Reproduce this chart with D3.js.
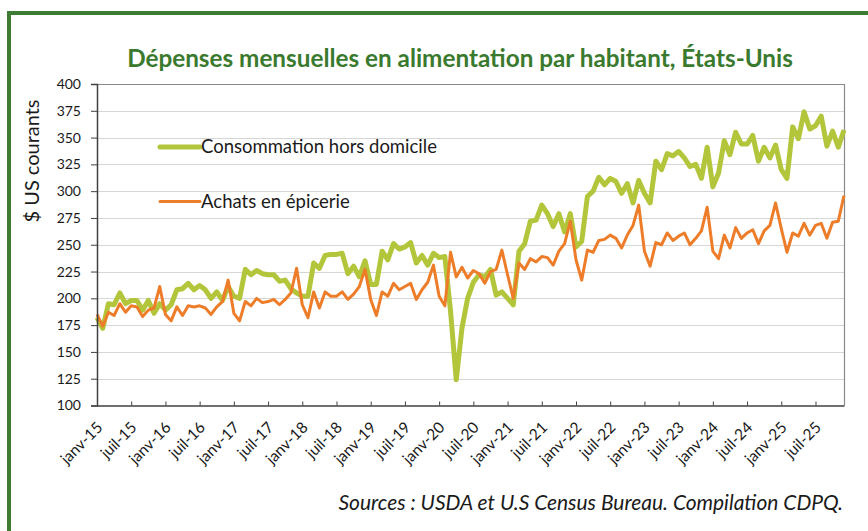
<!DOCTYPE html>
<html>
<head>
<meta charset="utf-8">
<script src="https://cdn.jsdelivr.net/npm/d3@7"></script>
<style>
  body { margin: 0; background: #fff; }
  svg { display: block; }
  text { font-family: Lato, "Liberation Sans", sans-serif; fill: #1a1a1a; }
</style>
</head>
<body>
<script>
const w = 868;
const h = 531;

// categories : un point par mois, janv-15 a dec-25
const years = ["15", "16", "17", "18", "19", "20", "21", "22", "23", "24", "25"];
const monthNames = ["janv", "févr", "mars", "avr", "mai", "juin", "juil", "août", "sept", "oct", "nov", "déc"];
const categories = years.flatMap(y => monthNames.map(m => m + "-" + y));

const tickLabels = [
  "janv-15", "juil-15", "janv-16", "juil-16", "janv-17", "juil-17", "janv-18", "juil-18",
  "janv-19", "juil-19", "janv-20", "juil-20", "janv-21", "juil-21", "janv-22", "juil-22",
  "janv-23", "juil-23", "janv-24", "juil-24", "janv-25", "juil-25"
];
const yTicks = [100, 125, 150, 175, 200, 225, 250, 275, 300, 325, 350, 375, 400];

// $ US courants par habitant
const horsDomicile = [
  182, 172, 195, 194, 205, 195, 198, 198, 189, 198, 186, 195,
  189, 194, 208, 209, 214, 208, 212, 208, 200, 206, 198, 211,
  202, 200, 227, 222, 226, 223, 222, 222, 216, 217, 209, 205,
  202, 202, 233, 228, 240, 241, 241, 242, 223, 230, 220, 235,
  213, 213, 244, 236, 251, 246, 248, 252, 233, 240, 231, 242,
  238, 239, 188, 124, 172, 200, 215, 222, 220, 227, 203, 206,
  200, 194, 244, 251, 272, 273, 287, 279, 267, 279, 262, 279,
  248, 253, 295, 300, 313, 306, 312, 309, 298, 307, 289, 310,
  298, 289, 328, 320, 335, 333, 337, 331, 323, 325, 312, 341,
  304, 317, 347, 334, 355, 344, 344, 352, 328, 341, 331, 343,
  320, 312, 360, 349, 374, 358, 361, 370, 342, 356, 341, 357
];
const epicerie = [
  185, 174, 187, 184, 195, 187, 193, 192, 183, 189, 191, 211,
  185, 179, 192, 184, 193, 192, 193, 191, 185, 192, 197, 217,
  186, 179, 197, 193, 200, 196, 197, 199, 194, 199, 205, 228,
  194, 182, 206, 191, 206, 202, 202, 206, 199, 204, 211, 227,
  199, 184, 206, 202, 214, 208, 211, 214, 199, 208, 215, 231,
  202, 193, 243, 220, 229, 219, 226, 223, 214, 225, 227, 245,
  222, 200, 233, 227, 237, 234, 239, 238, 231, 244, 251, 272,
  236, 217, 245, 243, 254, 255, 259, 256, 247, 259, 268, 287,
  244, 230, 252, 250, 261, 254, 258, 261, 250, 256, 263, 285,
  244, 237, 259, 247, 266, 256, 261, 264, 251, 263, 268, 289,
  265, 243, 261, 258, 270, 259, 268, 270, 256, 271, 272, 296
];

const greenLine = "#b3c53a";
const orangeLine = "#ee7d2a";
const darkGreen = "#3e7b33";

const plot = { left: 97, right: 844, top: 84, bottom: 405.5 };

const svg = d3.select("body").append("svg").attr("width", w).attr("height", h);

// cadre vert (coupe a droite et en bas)
svg.append("rect")
  .attr("x", 9).attr("y", 13)
  .attr("width", w + 20).attr("height", h + 20)
  .attr("fill", "none")
  .attr("stroke", darkGreen)
  .attr("stroke-width", 4);

function fitWidth(sel, target) {
  const size = parseFloat(sel.attr("font-size"));
  const len = sel.node().getComputedTextLength();
  sel.attr("font-size", size * target / len);
}

const title = svg.append("text")
  .attr("x", 460).attr("y", 67)
  .attr("text-anchor", "middle")
  .attr("font-size", 21)
  .attr("font-weight", "bold")
  .style("fill", "#3a7a2e")
  .text("Dépenses mensuelles en alimentation par habitant, États-Unis");
fitWidth(title, 666);

const x = d3.scalePoint().domain(categories).range([plot.left, plot.right]);
const y = d3.scaleLinear().domain([100, 400]).range([plot.bottom, plot.top]);

const crisp = v => Math.round(v) + 0.5;

// grille
svg.append("g")
  .selectAll("line")
  .data(yTicks.filter(v => v > 100 && v < 400))
  .enter()
  .append("line")
  .attr("x1", plot.left).attr("x2", plot.right)
  .attr("y1", d => crisp(y(d))).attr("y2", d => crisp(y(d)))
  .attr("stroke", "#d6d6d6")
  .attr("stroke-width", 1.2);

// bordure haut / droite de la zone de tracé
svg.append("path")
  .attr("d", `M${plot.left},${crisp(y(400))}H${crisp(plot.right)}V${plot.bottom}`)
  .attr("fill", "none")
  .attr("stroke", "#8a8a8a")
  .attr("stroke-width", 1.2);

const line = d3.line()
  .x((d, i) => x(categories[i]))
  .y(d => y(d));

svg.append("path")
  .datum(horsDomicile)
  .attr("d", line)
  .attr("fill", "none")
  .attr("stroke", greenLine)
  .attr("stroke-width", 5)
  .attr("stroke-linejoin", "round");

svg.append("path")
  .datum(epicerie)
  .attr("d", line)
  .attr("fill", "none")
  .attr("stroke", orangeLine)
  .attr("stroke-width", 3)
  .attr("stroke-linejoin", "round");

// axe Y
const yAxis = svg.append("g")
  .attr("transform", "translate(" + plot.left + ",0)")
  .call(d3.axisLeft(y).tickValues(yTicks).tickSize(6).tickPadding(10));
yAxis.select(".domain").attr("stroke", "#404040").attr("stroke-width", 1.5);
yAxis.selectAll(".tick line").attr("stroke", "#404040");
yAxis.selectAll(".tick text")
  .attr("font-size", 14)
  .attr("font-family", "Lato, sans-serif")
  .style("fill", "#1a1a1a");

// axe X
const xAxis = svg.append("g")
  .attr("transform", "translate(0," + plot.bottom + ")")
  .call(d3.axisBottom(x).tickValues(tickLabels).tickSize(-4).tickSizeOuter(0));
xAxis.select(".domain").attr("stroke", "#404040").attr("stroke-width", 1.5);
xAxis.selectAll(".tick line").attr("stroke", "#404040");
xAxis.selectAll(".tick text")
  .attr("font-size", 15.5)
  .attr("font-family", "Lato, sans-serif")
  .style("fill", "#1a1a1a")
  .attr("y", 0).attr("dy", 0)
  .attr("transform", "translate(6,23)rotate(-45)")
  .style("text-anchor", "end");

// titre de l'axe Y
const yTitle = svg.append("text")
  .attr("transform", "translate(39,161)rotate(-90)")
  .attr("text-anchor", "middle")
  .attr("font-size", 17)
  .text("$ US courants");
fitWidth(yTitle, 123);

// légende
const legend = [
  { label: "Consommation hors domicile", color: greenLine, width: 5, y: 147, textW: 236 },
  { label: "Achats en épicerie", color: orangeLine, width: 3, y: 201.5, textW: 149 }
];
legend.forEach(function (d) {
  svg.append("line")
    .attr("x1", 160).attr("x2", 200)
    .attr("y1", d.y).attr("y2", d.y)
    .attr("stroke", d.color)
    .attr("stroke-width", d.width)
    .attr("stroke-linecap", "round");
  const t = svg.append("text")
    .attr("x", 201).attr("y", d.y + 6)
    .attr("font-size", 17)
    .text(d.label);
  fitWidth(t, d.textW);
});

const source = svg.append("text")
  .attr("x", 843).attr("y", 510)
  .attr("text-anchor", "end")
  .attr("font-size", 17)
  .attr("font-style", "italic")
  .text("Sources : USDA et U.S Census  Bureau. Compilation CDPQ.");
fitWidth(source, 505);
</script>
</body>
</html>
